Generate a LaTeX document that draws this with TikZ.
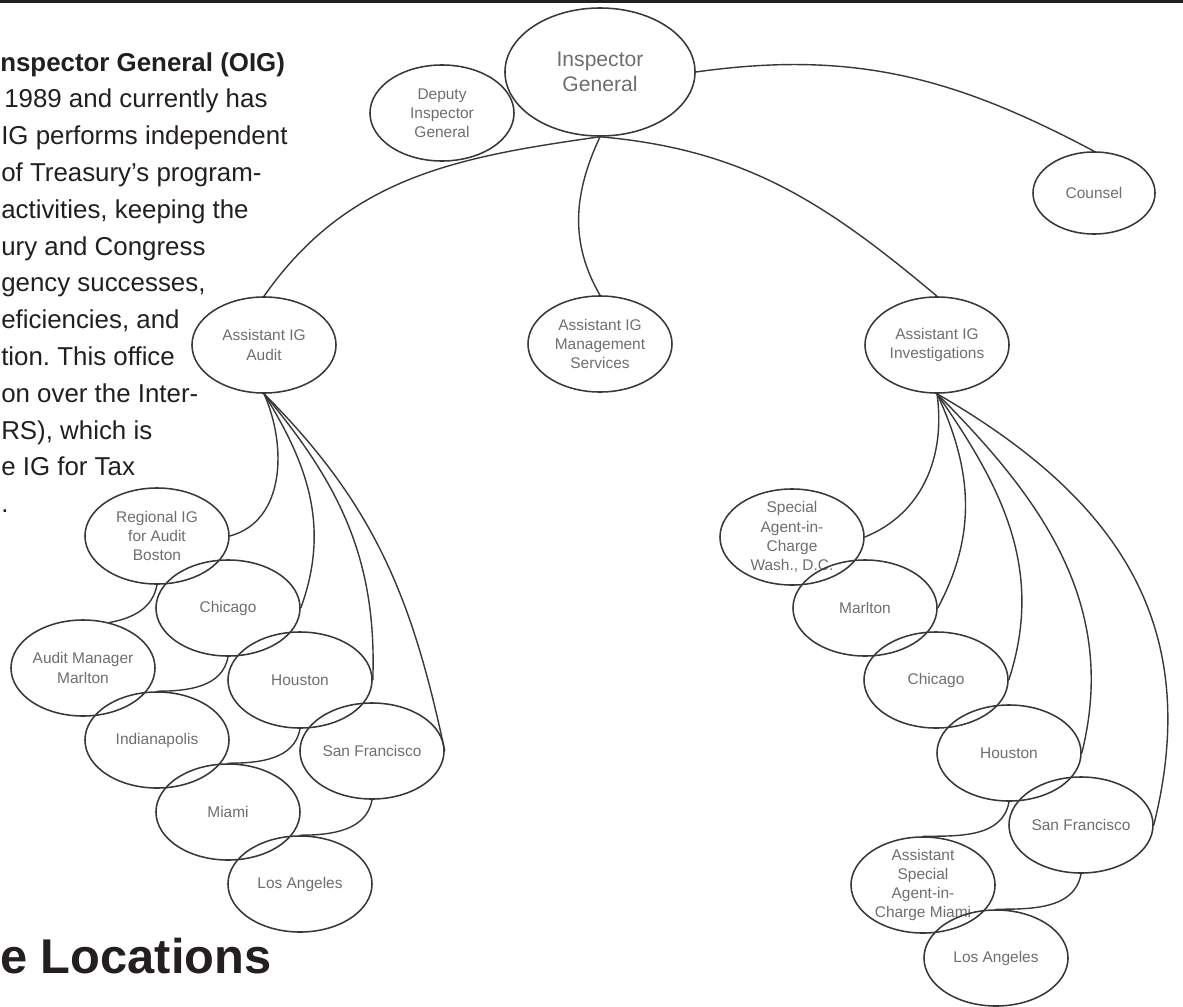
\documentclass[tikz,border=0pt]{standalone}
\usepackage{fontspec}
\setmainfont{Liberation Sans}
\usetikzlibrary{shapes.geometric}
\definecolor{ink}{HTML}{231F20}
\definecolor{rim}{HTML}{383838}
\definecolor{grey}{HTML}{6E6E6E}
\frenchspacing

\begin{document}
\begin{tikzpicture}[x=0.025cm,y=-0.025cm,
    office/.style={ellipse,draw=rim,line width=1.1pt,inner sep=0pt,
      minimum width=3.6cm,minimum height=2.4cm,align=center,text=grey,
      font=\fontsize{11}{13.6}\selectfont},
    tall/.style={inner ysep=-3pt},
    body/.style={anchor=base west,inner sep=0pt,text=ink,
      font=\fontsize{18.4}{22}\selectfont},
    link/.style={draw=rim,line width=1pt}]
    \useasboundingbox (0,0) rectangle (1183,1006);
    \fill[ink] (0,0) rectangle (1183,3.3);

    \node[body,font=\bfseries\fontsize{18.4}{22}\selectfont] (head) at (0,71) {nspector General (OIG)};
    \node[body] (ln1) at (4,107.8) {1989 and currently has};
    \node[body] (ln2) at (1,144.6) {IG performs independent};
    \node[body] (ln3) at (1,181.4) {of Treasury’s program-};
    \node[body] (ln4) at (1,218.2) {activities, keeping the};
    \node[body] (ln5) at (1,255) {ury and Congress};
    \node[body] (ln6) at (1,291.8) {gency successes,};
    \node[body] (ln7) at (1,328.6) {eficiencies, and};
    \node[body] (ln8) at (1,365.4) {tion. This office};
    \node[body] (ln9) at (1,402.2) {on over the Inter-};
    \node[body] (ln10) at (1,439) {RS), which is};
    \node[body] (ln11) at (1,475.8) {e IG for Tax};
    \node[body] (ln12) at (1,512.6) {.};
    \node[body,font=\bfseries\fontsize{34.7}{40}\selectfont] (title) at (0,973) {e Locations};

    \node[office,minimum width=4.75cm,minimum height=3.2cm,font=\fontsize{15}{17.7}\selectfont] (ig) at (600,72) {Inspector\\General};
    \node[office] (dep) at (442,113) {Deputy\\Inspector\\General};
    \node[office,minimum width=3.05cm,minimum height=2.05cm] (counsel) at (1094,193) {Counsel};
    \node[office] (aud) at (264,345) {Assistant IG\\Audit};
    \node[office] (mgt) at (600,344) {Assistant IG\\Management\\Services};
    \node[office] (inv) at (937,345) {Assistant IG\\Investigations};

    \node[office] (bos) at (157,536) {Regional IG\\for Audit\\Boston};
    \node[office] (achi) at (228,608) {Chicago};
    \node[office] (amar) at (83,668) {Audit Manager\\Marlton};
    \node[office] (ahou) at (300,680) {Houston};
    \node[office] (aind) at (157,740) {Indianapolis};
    \node[office] (asf) at (372,751) {San Francisco};
    \node[office] (amia) at (228,812) {Miami};
    \node[office] (ala) at (300,884) {Los Angeles};

    \node[office,tall] (wdc) at (792,537) {Special\\Agent-in-\\Charge\\Wash., D.C.};
    \node[office] (imar) at (865,608) {Marlton};
    \node[office] (ichi) at (936,680) {Chicago};
    \node[office] (ihou) at (1009,753) {Houston};
    \node[office] (isf) at (1081,825) {San Francisco};
    \node[office,tall] (imia) at (923,885) {Assistant\\Special\\Agent-in-\\Charge Miami};
    \node[office] (ila) at (996,958) {Los Angeles};

    \draw[link] (ig.east) to[out=8,in=152] (counsel.north);
    \draw[link] (ig.south) to[out=188,in=55] (aud.north);
    \draw[link] (ig.south) to[out=-115,in=120] (mgt.north);
    \draw[link] (ig.south) to[out=-5,in=140] (inv.north);

    \draw[link] (aud.south) to[out=-66,in=15] (bos.east);
    \draw[link] (aud.south) to[out=-58,in=70] (achi.east);
    \draw[link] (aud.south) to[out=-50,in=88] (ahou.east);
    \draw[link] (aud.south) to[out=-45,in=102] (asf.east);
    \draw[link] (bos.south) to[out=-100,in=10] (amar.60);
    \draw[link] (achi.south) to[out=-100,in=0] (aind.north);
    \draw[link] (ahou.south) to[out=-100,in=0] (amia.north);
    \draw[link] (asf.south) to[out=-100,in=0] (ala.north);

    \draw[link] (inv.south) to[out=-82,in=22] (wdc.east);
    \draw[link] (inv.south) to[out=-65,in=62] (imar.east);
    \draw[link] (inv.south) to[out=-55,in=72] (ichi.east);
    \draw[link] (inv.south) to[out=-45,in=76] (ihou.east);
    \draw[link] (inv.south) to[out=-30,in=76,looseness=1.1] (isf.east);
    \draw[link] (ihou.south) to[out=-100,in=0] (imia.north);
    \draw[link] (isf.south) to[out=-100,in=0] (ila.north);
\end{tikzpicture}
\end{document}
